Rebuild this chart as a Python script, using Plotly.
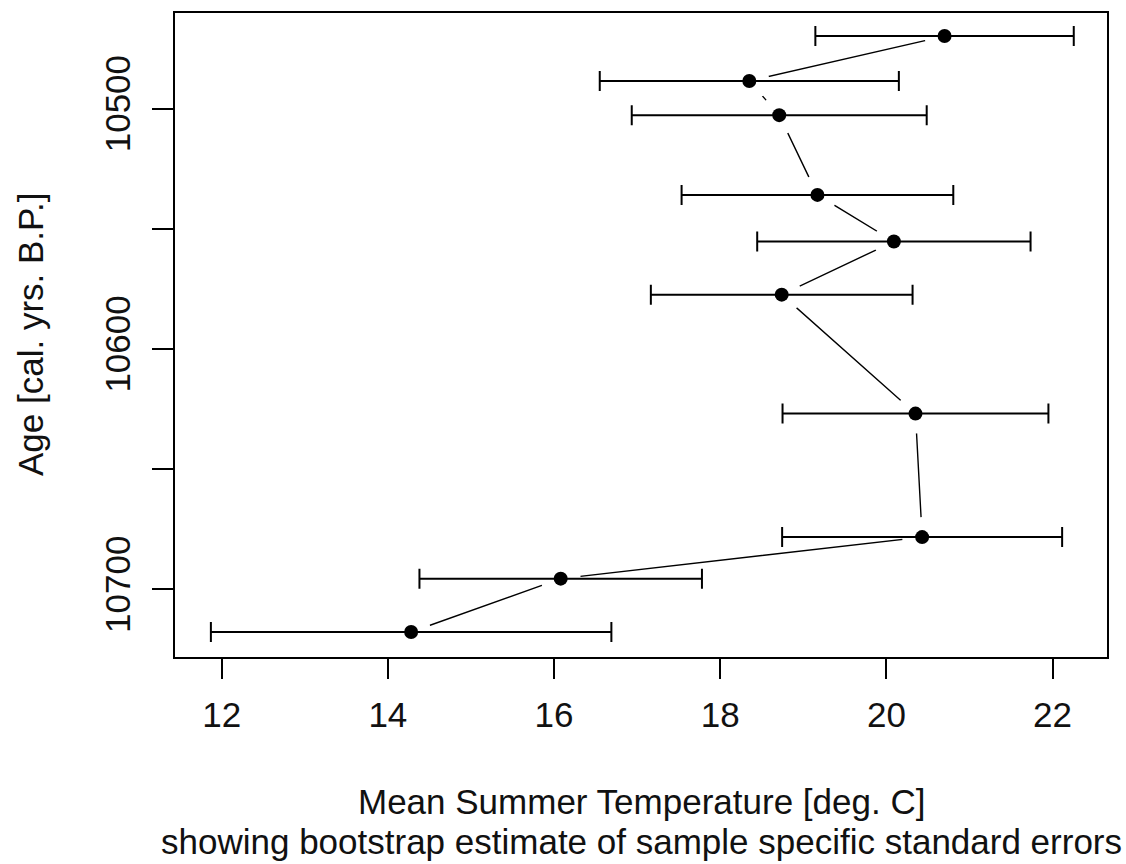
import plotly.graph_objects as go

# Data
ages = [10469.7, 10488.4, 10502.6, 10535.8, 10555.2, 10577.3, 10626.8, 10678.2, 10695.5, 10717.7]
temps = [20.70, 18.35, 18.71, 19.17, 20.09, 18.74, 20.35, 20.43, 16.08, 14.28]
se = [1.555, 1.80, 1.775, 1.635, 1.645, 1.575, 1.60, 1.685, 1.70, 2.41]

x_ticks = [12, 14, 16, 18, 20, 22]
y_ticks = [10500, 10550, 10600, 10650, 10700]
y_ticktext = ["10500", "", "10600", "", "10700"]

FONT = "Liberation Sans, Arial, sans-serif"
FS = 35
W, H = 1126, 864
L, R, T, B = 175, 19, 11, 207
pw, ph = W - L - R, H - T - B

def px_x(p):
    return (p - L) / pw

def px_y(p):
    return (H - B - p) / ph

fig = go.Figure()
# connecting line
fig.add_trace(go.Scatter(x=temps, y=ages, mode="lines",
                         line=dict(color="black", width=1.4), hoverinfo="skip"))
# white discs to create gaps in the line around each point (R type="b")
fig.add_trace(go.Scatter(x=temps, y=ages, mode="markers",
                         marker=dict(color="white", size=40, line=dict(width=0)),
                         hoverinfo="skip"))
# points with error bars
fig.add_trace(go.Scatter(x=temps, y=ages, mode="markers",
                         marker=dict(color="black", size=14, symbol="circle"),
                         error_x=dict(type="data", array=se, symmetric=True,
                                      color="black", thickness=2, width=10)))

fig.update_layout(
    width=W, height=H,
    margin=dict(l=L, r=R, t=T, b=B, pad=0),
    paper_bgcolor="white", plot_bgcolor="white",
    showlegend=False,
    font=dict(family=FONT, size=FS, color="black"),
    xaxis=dict(range=[11.438, 22.655], tickvals=x_ticks, showgrid=False, zeroline=False,
               showline=True, mirror=True, linecolor="black", linewidth=2,
               ticks="outside", ticklen=20, tickwidth=2, tickcolor="black",
               tickfont=dict(family=FONT, size=FS, color="#111"),
               ticklabelstandoff=6),
    yaxis=dict(range=[10728.1, 10460.1], tickvals=y_ticks, ticktext=y_ticktext,
               showgrid=False, zeroline=False,
               showline=True, mirror=True, linecolor="black", linewidth=2,
               ticks="outside", ticklen=21, tickwidth=2, tickcolor="black",
               tickangle=-90, tickfont=dict(family=FONT, size=FS, color="#111"),
               ticklabelstandoff=8),
    annotations=[
        dict(text="Mean Summer Temperature [deg. C]", x=0.5, y=px_y(802),
             xref="paper", yref="paper", xanchor="center", yanchor="middle",
             showarrow=False, font=dict(family=FONT, size=FS, color="#111")),
        dict(text="showing bootstrap estimate of sample specific standard errors",
             x=0.5, y=px_y(842), xref="paper", yref="paper",
             xanchor="center", yanchor="middle",
             showarrow=False, font=dict(family=FONT, size=FS, color="#111")),
        dict(text="Age [cal. yrs. B.P.]", x=px_x(30), y=0.5, textangle=-90,
             xref="paper", yref="paper", xanchor="center", yanchor="middle",
             showarrow=False, font=dict(family=FONT, size=FS, color="#111")),
    ],
)

fig.write_html("out.html")
